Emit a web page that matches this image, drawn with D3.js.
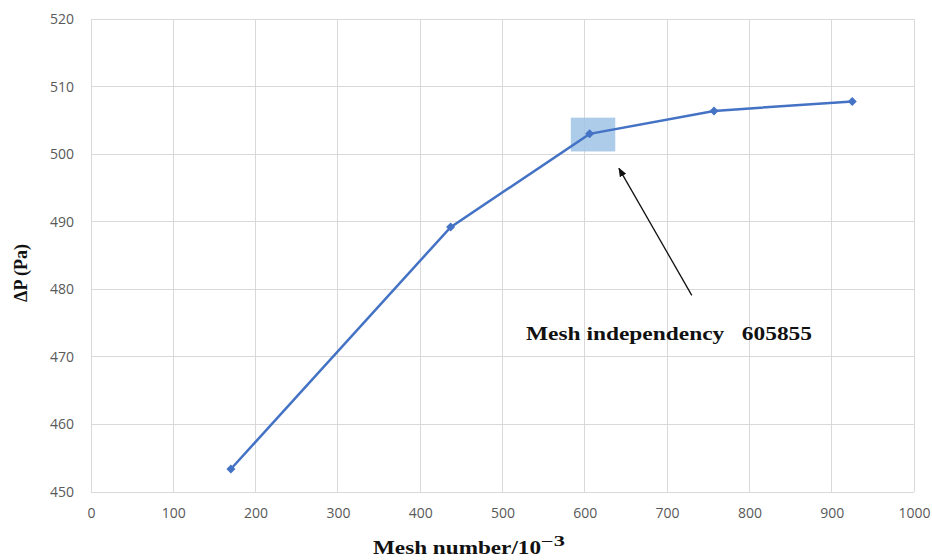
<!DOCTYPE html>
<html><head><meta charset="utf-8">
<script src="https://cdn.jsdelivr.net/npm/d3@7"></script>
<style>body{margin:0;background:#fff}</style>
</head><body>
<svg id="c" width="932" height="560"></svg>
<script>
const meshNumbers = [170, 437, 605.855, 757, 925];
const pressureDrop = [453.4, 489.2, 503.0, 506.4, 507.8];
const xTicks = [0,100,200,300,400,500,600,700,800,900,1000];
const yTicks = [450,460,470,480,490,500,510,520];
const highlightX = [583, 637];
const highlightY = [500.4, 505.4];
const arrowFrom = [730, 479.1];
const arrowTo = [641.5, 497.9];
const annotation = [{x: 526, y: 340, text: "Mesh independency   605855"}];

const svg = d3.select("#c");
const x = d3.scaleLinear().domain([0,1000]).range([91,914]);
const y = d3.scaleLinear().domain([450,520]).range([492,19]);

svg.append("defs").append("marker").attr("id","ah").attr("viewBox","0 0 10 10")
  .attr("refX",9).attr("refY",5).attr("markerWidth",7).attr("markerHeight",7).attr("orient","auto")
  .append("path").attr("d","M0,1 L10,5 L0,9 z").attr("fill","#111");

// grid
svg.append("g").selectAll("line").data(xTicks).join("line")
  .attr("x1",d=>x(d)).attr("x2",d=>x(d)).attr("y1",y(450)).attr("y2",y(520))
  .attr("stroke","#d9d9d9").attr("stroke-width",1).attr("shape-rendering","crispEdges");
svg.append("g").selectAll("line").data(yTicks).join("line")
  .attr("x1",x(0)).attr("x2",x(1000)).attr("y1",d=>y(d)).attr("y2",d=>y(d))
  .attr("stroke","#d9d9d9").attr("stroke-width",1).attr("shape-rendering","crispEdges");

// axes labels
const xa = svg.append("g").attr("transform",`translate(0,${y(450)})`)
  .call(d3.axisBottom(x).tickValues(xTicks).tickSize(0).tickPadding(16).tickFormat(d3.format("d")));
xa.select(".domain").remove();
xa.selectAll("text").attr("fill","#595959").attr("font-family","'Open Sans', sans-serif").attr("font-size",14);
const ya = svg.append("g").attr("transform",`translate(${x(0)},0)`)
  .call(d3.axisLeft(y).tickValues(yTicks).tickSize(0).tickPadding(17).tickFormat(d3.format("d")));
ya.select(".domain").remove();
ya.selectAll("text").attr("fill","#595959").attr("font-family","'Open Sans', sans-serif").attr("font-size",14);

// highlight box
svg.append("rect").attr("x",x(highlightX[0])).attr("y",y(highlightY[1]))
  .attr("width",x(highlightX[1])-x(highlightX[0])).attr("height",y(highlightY[0])-y(highlightY[1]))
  .attr("fill","#9dc3e6").attr("opacity",0.85);

// line
const pts = meshNumbers.map((m,i)=>[m,pressureDrop[i]]);
svg.append("path").datum(pts).attr("fill","none").attr("stroke","#4472c4").attr("stroke-width",2.5)
  .attr("d",d3.line().x(d=>x(d[0])).y(d=>y(d[1])));
svg.append("g").selectAll("path").data(pts).join("path")
  .attr("transform",d=>`translate(${x(d[0])},${y(d[1])})`)
  .attr("d","M0,-4.5 L4.5,0 L0,4.5 L-4.5,0 Z").attr("fill","#4472c4");

// arrow
svg.append("line").attr("x1",x(arrowFrom[0])).attr("y1",y(arrowFrom[1]))
  .attr("x2",x(arrowTo[0])).attr("y2",y(arrowTo[1]))
  .attr("stroke","#111").attr("stroke-width",1.3).attr("marker-end","url(#ah)");

svg.selectAll("text.ann").data(annotation).join("text").attr("class","ann")
  .attr("x",d=>d.x).attr("y",d=>d.y).text(d=>d.text)
  .attr("font-family","'Liberation Serif', 'Times New Roman', serif").attr("font-weight","bold")
  .attr("font-size",19.5).attr("fill","#111").attr("xml:space","preserve").style("white-space","pre")
  .attr("textLength",286).attr("lengthAdjust","spacingAndGlyphs");

// axis titles
const xt = svg.append("text").attr("x",373).attr("y",554)
  .attr("font-family","'Liberation Serif', 'Times New Roman', serif").attr("font-weight","bold")
  .attr("font-size",19).attr("fill","#111");
xt.append("tspan").text("Mesh number/10").attr("textLength",168).attr("lengthAdjust","spacingAndGlyphs");
xt.append("tspan").text("\u22123").attr("dy",-8).attr("font-size",14).attr("textLength",24).attr("lengthAdjust","spacingAndGlyphs");

svg.append("text").attr("transform","translate(27,273) rotate(-90)").attr("text-anchor","middle")
  .attr("font-family","'Liberation Serif', 'Times New Roman', serif").attr("font-weight","bold")
  .attr("font-size",18).attr("fill","#111").text("\u0394P (Pa)");
</script>
</body></html>
